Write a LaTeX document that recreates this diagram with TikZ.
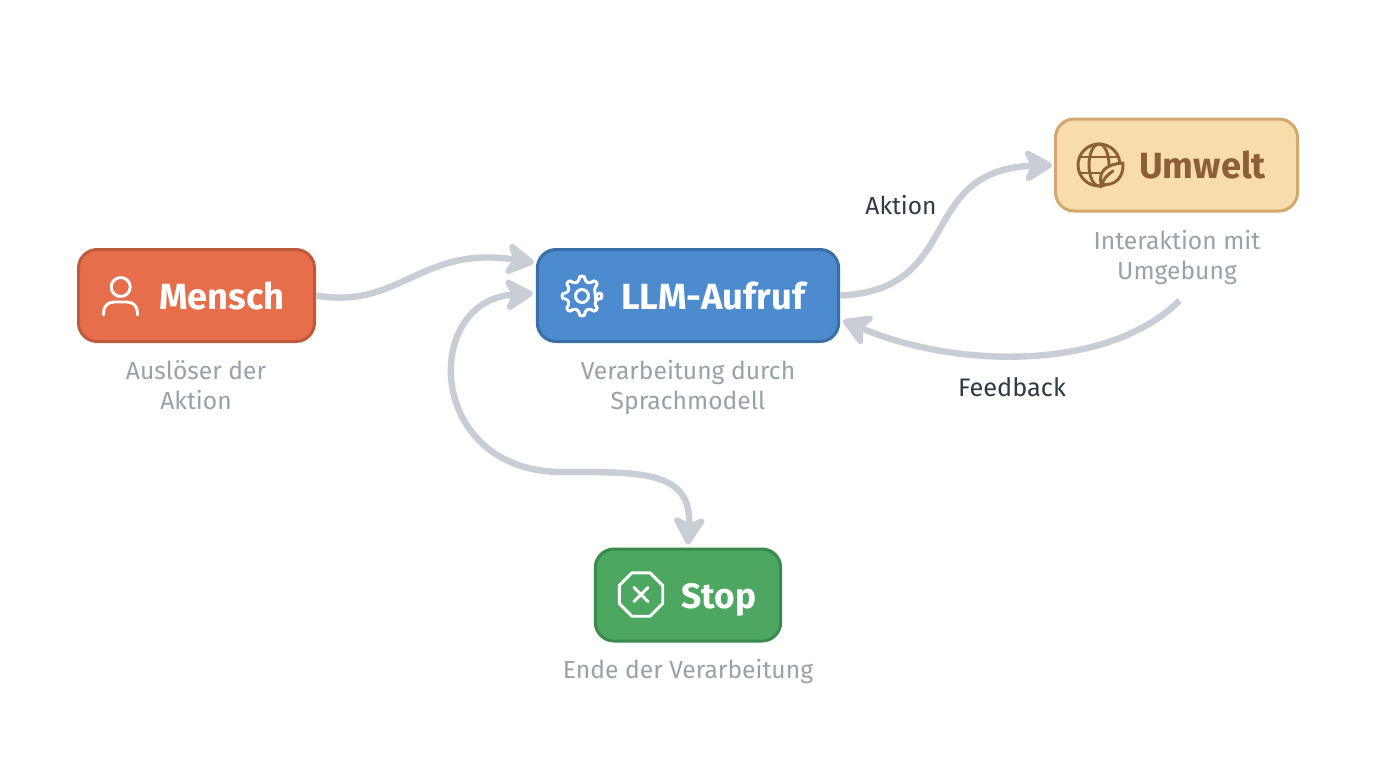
\documentclass[tikz,border=0pt]{standalone}
\usepackage{fontspec}
\setmainfont{Fira Sans}
\usetikzlibrary{arrows.meta,calc}
\definecolor{arrowgrey}{HTML}{C8CDD6}
\definecolor{subgrey}{HTML}{98A2AB}
\definecolor{edgetext}{HTML}{2F3A47}
\definecolor{mfill}{HTML}{E66E4B}
\definecolor{mline}{HTML}{BE5A3C}
\definecolor{lfill}{HTML}{4C8BCD}
\definecolor{lline}{HTML}{3A6FA8}
\definecolor{ufill}{HTML}{F8DCAC}
\definecolor{uline}{HTML}{D6A76C}
\definecolor{utext}{HTML}{8C5F36}
\definecolor{sfill}{HTML}{4CA760}
\definecolor{sline}{HTML}{3A8A4E}
\tikzset{
  x=0.75pt,y=-0.75pt,
  box/.style={draw,line width=2.25pt,rounded corners=14pt,inner sep=0pt,minimum height=69pt},
  boxtitle/.style={font=\fontsize{27.3}{30}\selectfont\bfseries,inner sep=0pt,anchor=base west},
  subtext/.style={font=\fontsize{18.5}{22.5}\selectfont,text=subgrey,align=center,inner sep=0pt},
  edgelabel/.style={font=\fontsize{18.4}{22}\selectfont,text=edgetext,inner sep=0pt},
  headtip/.tip={Stealth[length=25pt,width=29pt,inset=7pt,round]},
  flow/.style={draw=arrowgrey,line width=4.8pt,line cap=butt,-headtip},
  flowboth/.style={draw=arrowgrey,line width=4.8pt,headtip-headtip},
  icon/.style={line width=2.2pt,line cap=round,line join=round},
}
\begin{document}
\begin{tikzpicture}
\useasboundingbox[fill=white] (0,0) rectangle (1376,768);
% boxes
\node[box,fill=mfill,draw=mline,minimum width=177pt] (mensch) at (196.5,295.5) {};
\node[box,fill=lfill,draw=lline,minimum width=226pt] (llm) at (688,295.5) {};
\node[box,fill=ufill,draw=uline,minimum width=181.5pt] (umwelt) at (1176.5,165) {};
\node[box,fill=sfill,draw=sline,minimum width=139pt] (stop) at (688,595) {};
% titles
\node[boxtitle,text=white] (menschT) at (159,309) {Mensch};
\node[boxtitle,text=white] (llmT) at (621,309) {LLM-Aufruf};
\node[boxtitle,text=utext] (umweltT) at (1139,178.5) {Umwelt};
\node[boxtitle,text=white,font=\fontsize{26.5}{30}\selectfont\bfseries] (stopT) at (681,608.5) {Stop};
% captions
\node[subtext] (menschS) at (196,385.5) {Auslöser der\\Aktion};
\node[subtext] (llmS) at (688,387) {Verarbeitung durch\\Sprachmodell};
\node[subtext] (umweltS) at (1177,257) {Interaktion mit\\Umgebung};
\node[subtext] (stopS) at (688,671) {Ende der Verarbeitung};
% edge labels
\node[edgelabel] (aktion) at (901,205.5) {Aktion};
\node[edgelabel,font=\fontsize{19}{22}\selectfont] (feedback) at (1012,387) {Feedback};
% connector anchors
\coordinate (llmIn1) at ($(llm.west)+(-2,-33)$);
\coordinate (llmIn2) at ($(llm.west)+(-3,-2)$);
\coordinate (llmIn3) at ($(llm.east)+(3,25)$);
\coordinate (umweltOut) at ($(umwelt.south)+(3,88)$);
\coordinate (umweltIn) at ($(umwelt.west)+(-2,0)$);
\coordinate (stopIn) at ($(stop.north)+(0,-3)$);
% connectors
\path[flow] (mensch.east) .. controls (400,310) and (420,245) .. (llmIn1);
\path[flow] (llm.east) .. controls (965,290) and (915,170) .. (umweltIn);
\path[flow] (umweltOut) .. controls (1110,370) and (960,370) .. (llmIn3);
\path[flowboth] (llmIn2) .. controls (422,300) and (425,470) .. (560,472)
   .. controls (640,472) and (692,470) .. (stopIn);
% person icon
\draw[icon,white] (120.7,287) circle (9.5);
\draw[icon,white] (103.5,315) -- (103.5,313) .. controls (103.5,306) and (108,302) .. (114,302)
  -- (127,302) .. controls (133,302) and (137.5,306) .. (137.5,313) -- (137.5,315);
% gear icon
\begin{scope}[shift={(582,296)}]
\draw[icon,white,rounded corners=1.5pt] (22.5:15)
  \foreach \a in {0,45,...,315} { -- ({\a-11}:15) -- ({\a-8}:20) -- ({\a+8}:20) -- ({\a+11}:15) } -- cycle;
\draw[icon,white] (0,0) circle (6.5);
\end{scope}
% globe icon
\begin{scope}[shift={(1099,165)}]
\draw[icon,utext] (0,0) circle (21);
\draw[icon,utext] (0,0) ellipse (10 and 21);
\draw[icon,utext] (-19,-8) -- (19,-8);
\draw[icon,utext] (-19,8) -- (8,8);
\draw[icon,utext,fill=ufill] (2,19) .. controls (-1,6) and (8,-1) .. (24,-2) .. controls (25,12) and (16,22) .. (2,19) -- cycle;
\draw[icon,utext] (2,22) .. controls (4,14) and (8,10) .. (14,6);
\end{scope}
% stop icon
\begin{scope}[shift={(641,594.5)}]
\draw[icon,white,line join=round] (22.5:23.5) -- (67.5:23.5) -- (112.5:23.5) -- (157.5:23.5) -- (202.5:23.5) -- (247.5:23.5) -- (292.5:23.5) -- (337.5:23.5) -- cycle;
\draw[icon,white] (-7,-7) -- (7,7) (-7,7) -- (7,-7);
\end{scope}
\end{tikzpicture}
\end{document}
